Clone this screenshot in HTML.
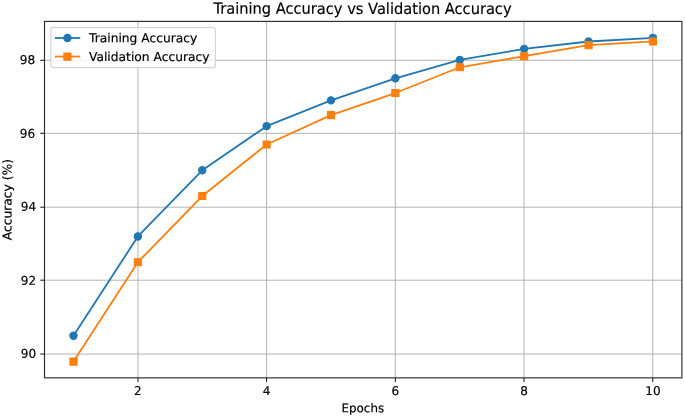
<!DOCTYPE html>
<html lang="en"><head><meta charset="utf-8"><title>Training Accuracy vs Validation Accuracy</title>
<style>html,body{margin:0;padding:0;background:#fff}svg{display:block}</style></head>
<body>
<svg width="685" height="417" viewBox="0 0 685 417" font-family="'DejaVu Sans', 'Liberation Sans', sans-serif" fill="#000">
<style>text{stroke:#000;stroke-width:0.18px}</style>
<rect width="685" height="417" fill="#fff"/>
<path d="M137.97 21.40V377.85M266.56 21.40V377.85M395.32 21.40V377.85M524.03 21.40V377.85M652.74 21.40V377.85M44.50 354.07H681.90M44.50 280.19H681.90M44.50 207.20H681.90M44.50 133.29H681.90M44.50 60.29H681.90" stroke="#b0b0b0" stroke-width="0.96" fill="none"/>
<path d="M137.97 377.85v4.21M266.56 377.85v4.21M395.32 377.85v4.21M524.03 377.85v4.21M652.74 377.85v4.21M44.50 354.07h-4.21M44.50 280.19h-4.21M44.50 207.20h-4.21M44.50 133.29h-4.21M44.50 60.29h-4.21" stroke="#000" stroke-width="0.96" fill="none"/>
<clipPath id="c"><rect x="44.5" y="21.4" width="637.40" height="356.45"/></clipPath>
<g clip-path="url(#c)">
<polyline points="73.47,335.81 137.86,236.49 202.24,170.27 266.62,126.13 331.01,100.37 395.39,78.30 459.78,59.91 524.16,48.87 588.54,41.52 652.93,37.84" fill="none" stroke="#1f77b4" stroke-width="1.81" stroke-linejoin="round" stroke-linecap="square"/>
<circle cx="73.47" cy="335.81" r="3.61" fill="#1f77b4" stroke="#1f77b4" stroke-width="1.20"/>
<circle cx="137.86" cy="236.49" r="3.61" fill="#1f77b4" stroke="#1f77b4" stroke-width="1.20"/>
<circle cx="202.24" cy="170.27" r="3.61" fill="#1f77b4" stroke="#1f77b4" stroke-width="1.20"/>
<circle cx="266.62" cy="126.13" r="3.61" fill="#1f77b4" stroke="#1f77b4" stroke-width="1.20"/>
<circle cx="331.01" cy="100.37" r="3.61" fill="#1f77b4" stroke="#1f77b4" stroke-width="1.20"/>
<circle cx="395.39" cy="78.30" r="3.61" fill="#1f77b4" stroke="#1f77b4" stroke-width="1.20"/>
<circle cx="459.78" cy="59.91" r="3.61" fill="#1f77b4" stroke="#1f77b4" stroke-width="1.20"/>
<circle cx="524.16" cy="48.87" r="3.61" fill="#1f77b4" stroke="#1f77b4" stroke-width="1.20"/>
<circle cx="588.54" cy="41.52" r="3.61" fill="#1f77b4" stroke="#1f77b4" stroke-width="1.20"/>
<circle cx="652.93" cy="37.84" r="3.61" fill="#1f77b4" stroke="#1f77b4" stroke-width="1.20"/>
<polyline points="73.47,361.56 137.86,262.24 202.24,196.02 266.62,144.52 331.01,115.09 395.39,93.02 459.78,67.27 524.16,56.23 588.54,45.19 652.93,41.52" fill="none" stroke="#ff7f0e" stroke-width="1.81" stroke-linejoin="round" stroke-linecap="square"/>
<rect x="69.92" y="358.01" width="7.10" height="7.10" fill="#ff7f0e" stroke="#ff7f0e" stroke-width="1.1" stroke-linejoin="round"/>
<rect x="134.31" y="258.69" width="7.10" height="7.10" fill="#ff7f0e" stroke="#ff7f0e" stroke-width="1.1" stroke-linejoin="round"/>
<rect x="198.69" y="192.47" width="7.10" height="7.10" fill="#ff7f0e" stroke="#ff7f0e" stroke-width="1.1" stroke-linejoin="round"/>
<rect x="263.07" y="140.97" width="7.10" height="7.10" fill="#ff7f0e" stroke="#ff7f0e" stroke-width="1.1" stroke-linejoin="round"/>
<rect x="327.46" y="111.54" width="7.10" height="7.10" fill="#ff7f0e" stroke="#ff7f0e" stroke-width="1.1" stroke-linejoin="round"/>
<rect x="391.84" y="89.47" width="7.10" height="7.10" fill="#ff7f0e" stroke="#ff7f0e" stroke-width="1.1" stroke-linejoin="round"/>
<rect x="456.23" y="63.72" width="7.10" height="7.10" fill="#ff7f0e" stroke="#ff7f0e" stroke-width="1.1" stroke-linejoin="round"/>
<rect x="520.61" y="52.68" width="7.10" height="7.10" fill="#ff7f0e" stroke="#ff7f0e" stroke-width="1.1" stroke-linejoin="round"/>
<rect x="584.99" y="41.64" width="7.10" height="7.10" fill="#ff7f0e" stroke="#ff7f0e" stroke-width="1.1" stroke-linejoin="round"/>
<rect x="649.38" y="37.97" width="7.10" height="7.10" fill="#ff7f0e" stroke="#ff7f0e" stroke-width="1.1" stroke-linejoin="round"/>
</g>
<rect x="44.5" y="21.4" width="637.40" height="356.45" fill="none" stroke="#2b2b2b" stroke-width="1.15"/>
<text transform="translate(137.86 395.10) rotate(0.03)" font-size="12.05" text-anchor="middle">2</text>
<text transform="translate(266.62 395.10) rotate(0.03)" font-size="12.05" text-anchor="middle">4</text>
<text transform="translate(395.39 395.10) rotate(0.03)" font-size="12.05" text-anchor="middle">6</text>
<text transform="translate(524.16 395.10) rotate(0.03)" font-size="12.05" text-anchor="middle">8</text>
<text transform="translate(652.93 395.10) rotate(0.03)" font-size="12.05" text-anchor="middle">10</text>
<text transform="translate(36.20 357.76) rotate(0.03)" font-size="12.05" text-anchor="end">90</text>
<text transform="translate(36.20 284.76) rotate(0.03)" font-size="12.05" text-anchor="end">92</text>
<text transform="translate(36.20 210.76) rotate(0.03)" font-size="12.05" text-anchor="end">94</text>
<text transform="translate(35.20 137.86) rotate(0.03)" font-size="12.05" text-anchor="end">96</text>
<text transform="translate(35.20 63.90) rotate(0.03)" font-size="12.05" text-anchor="end">98</text>
<text transform="translate(362.80 412.20) rotate(0.03)" font-size="11.9295" text-anchor="middle">Epochs</text>
<text transform="translate(11.50 199.62) rotate(-89.97)" font-size="12.27" text-anchor="middle">Accuracy (%)</text>
<text transform="translate(362.50 13.90) rotate(0.03) scale(0.95 1)" font-size="15.4" text-anchor="middle">Training Accuracy vs Validation Accuracy</text>
<rect x="50.8" y="27.65" width="164.65" height="40.05" rx="2.4" ry="2.4" fill="#fff" fill-opacity="0.8" stroke="#ccc" stroke-opacity="0.8" stroke-width="1.20"/>
<path d="M55.8 38.0H79.3" stroke="#1f77b4" stroke-width="1.81" stroke-linecap="square" fill="none"/>
<circle cx="67.43" cy="38.0" r="3.61" fill="#1f77b4" stroke="#1f77b4" stroke-width="1.20"/>
<text transform="translate(89.00 42.30) rotate(0.03)" font-size="12.28">Training Accuracy</text>
<path d="M55.8 56.55H79.3" stroke="#ff7f0e" stroke-width="1.81" stroke-linecap="square" fill="none"/>
<rect x="63.88" y="53.00" width="7.10" height="7.10" fill="#ff7f0e" stroke="#ff7f0e" stroke-width="1.1" stroke-linejoin="round"/>
<text transform="translate(89.00 61.00) rotate(0.03)" font-size="12.28">Validation Accuracy</text>
</svg>
</body></html>
